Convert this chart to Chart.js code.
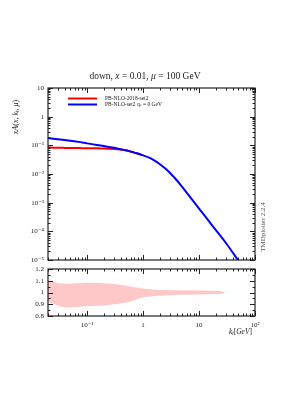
<!DOCTYPE html>
<html>
<head>
<meta charset="utf-8">
<script src="https://cdn.jsdelivr.net/npm/chart.js@4/dist/chart.umd.min.js"></script>
<style>
  html, body { margin: 0; padding: 0; background: #fff; }
  #wrap { position: relative; width: 289px; height: 409px; }
  #wrap canvas { position: absolute; left: 0; top: 0; }
</style>
</head>
<body>
<div id="wrap">
  <canvas id="main" width="289" height="409"></canvas>
  <canvas id="ratio" width="289" height="409"></canvas>
</div>
<script>
// values
const ktBlue = [0.02, 0.03, 0.05, 0.07, 0.1, 0.15, 0.2, 0.3, 0.4, 0.5, 0.6, 0.7, 0.85, 1, 1.25, 1.5, 2, 2.5, 3, 4, 5, 7, 10, 15, 20, 30, 40, 50, 60];
const blueVals = [0.18, 0.163, 0.144, 0.132, 0.117, 0.103, 0.094, 0.082, 0.073, 0.067, 0.0605, 0.0557, 0.050, 0.0447, 0.0379, 0.0317, 0.0220, 0.0155, 0.0111, 0.00605, 0.00353, 0.00152, 6.24e-4, 2.26e-4, 1.10e-4, 4.0e-5, 1.82e-5, 9.7e-6, 5.9e-6];

const ktRed = [0.02, 0.025, 0.03, 0.04, 0.05, 0.07, 0.1, 0.15, 0.2, 0.3, 0.4, 0.5, 0.6, 0.7, 0.85, 1];
const redVals = [0.085, 0.083, 0.082, 0.0815, 0.081, 0.0805, 0.079, 0.0785, 0.077, 0.075, 0.071, 0.066, 0.0605, 0.0557, 0.050, 0.0447];

const ktBand = [0.02, 0.025, 0.03, 0.04, 0.05, 0.07, 0.1, 0.15, 0.2, 0.3, 0.5, 0.7, 1, 1.5, 2, 3, 5, 10, 15, 20, 25, 30];
const bandUp = [1.10, 1.095, 1.08, 1.075, 1.075, 1.078, 1.08, 1.08, 1.078, 1.072, 1.058, 1.045, 1.033, 1.025, 1.022, 1.02, 1.019, 1.017, 1.015, 1.015, 1.01, 1.0];
const bandLo = [0.92, 0.905, 0.89, 0.875, 0.872, 0.878, 0.885, 0.888, 0.89, 0.9, 0.915, 0.935, 0.958, 0.968, 0.972, 0.976, 0.98, 0.984, 0.986, 0.987, 0.99, 1.0];

const labels = ['PB-NLO-2018-set2', 'PB-NLO-set2 q\u209B = 0 GeV'];
const xTicks = [0.1, 1, 10, 100];
const xTickLabels = ['10\u207B\u00B9', '1', '10', '10\u00B2'];
const yTicks = [10, 1, 0.1, 0.01, 1e-3, 1e-4, 1e-5];
const yTickLabels = ['10', '1', '10\u207B\u00B9', '10\u207B\u00B2', '10\u207B\u00B3', '10\u207B\u2074', '10\u207B\u2075'];
const rTicks = [1.2, 1.1, 1, 0.9, 0.8];
const rTickLabels = ['1.2', '1.1', '1', '0.9', '0.8'];

const serif = '"Liberation Serif", "DejaVu Serif", serif';
const pts = (xs, ys) => xs.map((x, i) => ({ x: x, y: ys[i] }));

function logMinor(min, max) {
  const out = [];
  for (let e = Math.floor(Math.log10(min)); e <= Math.ceil(Math.log10(max)); e++) {
    for (let m = 1; m < 10; m++) {
      const v = m * Math.pow(10, e);
      if (v >= min * 0.999 && v <= max * 1.001) out.push({ v: v, major: m === 1 });
    }
  }
  return out;
}

function drawRich(ctx, parts, x, y, size, align) {
  let w = 0;
  parts.forEach(p => {
    ctx.font = (p.i ? 'italic ' : '') + (p.sub ? size * 0.7 : size) + 'px ' + serif;
    p.w = ctx.measureText(p.t).width;
    w += p.w;
  });
  let cx = align === 'center' ? x - w / 2 : align === 'right' ? x - w : x;
  parts.forEach(p => {
    ctx.font = (p.i ? 'italic ' : '') + (p.sub ? size * 0.7 : size) + 'px ' + serif;
    ctx.fillText(p.t, cx, y + (p.sub ? size * 0.25 : 0));
    cx += p.w;
  });
}

// inward ticks + frame
const framePlugin = {
  id: 'frame',
  afterDraw(chart) {
    const { ctx, chartArea: a, scales } = chart;
    ctx.save();
    ctx.strokeStyle = '#222';
    ctx.lineWidth = 1;
    const xs = scales.x, ys = scales.y;
    logMinor(xs.min, xs.max).forEach(t => {
      const px = Math.round(xs.getPixelForValue(t.v)) + 0.5;
      const len = t.major ? 5 : 2.5;
      ctx.beginPath();
      ctx.moveTo(px, a.bottom); ctx.lineTo(px, a.bottom - len);
      ctx.moveTo(px, a.top); ctx.lineTo(px, a.top + len);
      ctx.stroke();
    });
    let yt;
    if (ys.type === 'logarithmic') yt = logMinor(ys.min, ys.max);
    else {
      yt = [];
      for (let v = 0.8; v <= 1.2001; v += 0.05) yt.push({ v: v, major: Math.abs(v * 10 - Math.round(v * 10)) < 1e-6 });
    }
    yt.forEach(t => {
      const py = Math.round(ys.getPixelForValue(t.v)) + 0.5;
      const len = t.major ? 5 : 2.5;
      ctx.beginPath();
      ctx.moveTo(a.left, py); ctx.lineTo(a.left + len, py);
      ctx.moveTo(a.right, py); ctx.lineTo(a.right - len, py);
      ctx.stroke();
    });
    ctx.lineWidth = 1.2;
    ctx.strokeRect(a.left, a.top, a.right - a.left, a.bottom - a.top);
    ctx.restore();
  }
};

const textPlugin = {
  id: 'texts',
  afterDraw(chart) {
    const ctx = chart.ctx;
    ctx.save();
    ctx.fillStyle = '#222';
    ctx.textBaseline = 'middle';
    // title
    drawRich(ctx, [{ t: 'down, ' }, { t: 'x', i: 1 }, { t: ' = 0.01, ' }, { t: '\u03BC', i: 1 }, { t: ' = 100 GeV' }], 145, 76, 9.5, 'center');
    // legend
    chart.data.datasets.forEach((ds, i) => {
      const y = 98.5 + i * 6;
      ctx.strokeStyle = ds.borderColor;
      ctx.lineWidth = 2;
      ctx.beginPath(); ctx.moveTo(68, y); ctx.lineTo(97, y); ctx.stroke();
      ctx.font = '5.5px ' + serif;
      ctx.textAlign = 'left';
      ctx.fillText(ds.label, 105, y);
    });
    // y title
    ctx.save();
    ctx.translate(16, 117);
    ctx.rotate(-Math.PI / 2);
    drawRich(ctx, [{ t: 'xA', i: 1 }, { t: '(' }, { t: 'x', i: 1 }, { t: ', ' }, { t: 'k', i: 1 }, { t: 't', i: 1, sub: 1 }, { t: ', ' }, { t: '\u03BC', i: 1 }, { t: ')' }], 0, 0, 8, 'center');
    ctx.restore();
    // plotter tag
    ctx.save();
    ctx.fillStyle = '#555';
    ctx.translate(263, 227);
    ctx.rotate(-Math.PI / 2);
    drawRich(ctx, [{ t: 'TMDplotter 2.2.4' }], 0, 0, 7, 'center');
    ctx.restore();
    ctx.restore();
  }
};

const xTitlePlugin = {
  id: 'xtitle',
  afterDraw(chart) {
    const ctx = chart.ctx;
    ctx.save();
    ctx.fillStyle = '#222';
    ctx.textBaseline = 'middle';
    drawRich(ctx, [{ t: 'k', i: 1 }, { t: 't', i: 1, sub: 1 }, { t: '[' }, { t: 'GeV', i: 1 }, { t: ']' }], 252, 332, 7.5, 'right');
    ctx.restore();
  }
};

const tickFont = { family: serif, size: 7 };

new Chart(document.getElementById('main'), {
  type: 'line',
  data: {
    datasets: [
      { label: labels[0], data: pts(ktRed, redVals), borderColor: '#ff0000', borderWidth: 2, pointRadius: 0, cubicInterpolationMode: 'monotone', order: 1 },
      { label: labels[1], data: pts(ktBlue, blueVals), borderColor: '#0000ff', borderWidth: 2, pointRadius: 0, cubicInterpolationMode: 'monotone', order: 0 }
    ]
  },
  options: {
    responsive: false,
    animation: false,
    layout: { padding: { left: 0, right: 34, top: 88, bottom: 149 } },
    plugins: { legend: { display: false }, tooltip: { enabled: false } },
    scales: {
      x: { type: 'logarithmic', min: 0.02, max: 100, display: false },
      y: {
        type: 'logarithmic', min: 1e-5, max: 10,
        grid: { display: false, drawTicks: false },
        border: { display: false },
        afterBuildTicks: s => { s.ticks = yTicks.map(v => ({ value: v })); },
        afterFit: s => { s.width = 48; },
        ticks: { color: '#222', font: tickFont, padding: 4, callback: (v) => yTickLabels[yTicks.indexOf(v)] }
      }
    }
  },
  plugins: [framePlugin, textPlugin]
});

new Chart(document.getElementById('ratio'), {
  type: 'line',
  data: {
    datasets: [
      { label: 'lo', data: pts(ktBand, bandLo), borderWidth: 0, pointRadius: 0, fill: false, tension: 0.3 },
      { label: 'up', data: pts(ktBand, bandUp), borderWidth: 0, pointRadius: 0, fill: '-1', backgroundColor: 'rgba(255,200,200,1)', tension: 0.3 }
    ]
  },
  options: {
    responsive: false,
    animation: false,
    layout: { padding: { left: 0, right: 34, top: 269, bottom: 73 } },
    plugins: { legend: { display: false }, tooltip: { enabled: false } },
    scales: {
      x: {
        type: 'logarithmic', min: 0.02, max: 100,
        grid: { display: false, drawTicks: false },
        border: { display: false },
        afterBuildTicks: s => { s.ticks = xTicks.map(v => ({ value: v })); },
        afterFit: s => { s.height = 20; },
        ticks: { color: '#222', font: tickFont, padding: 5, maxRotation: 0, autoSkip: false, callback: (v) => xTickLabels[xTicks.indexOf(v)] }
      },
      y: {
        min: 0.8, max: 1.2,
        grid: { display: false, drawTicks: false },
        border: { display: false },
        afterBuildTicks: s => { s.ticks = rTicks.map(v => ({ value: v })); },
        afterFit: s => { s.width = 48; },
        ticks: { color: '#222', font: tickFont, padding: 4, callback: (v) => rTickLabels[rTicks.indexOf(v)] }
      }
    }
  },
  plugins: [framePlugin, xTitlePlugin]
});
</script>
</body>
</html>
